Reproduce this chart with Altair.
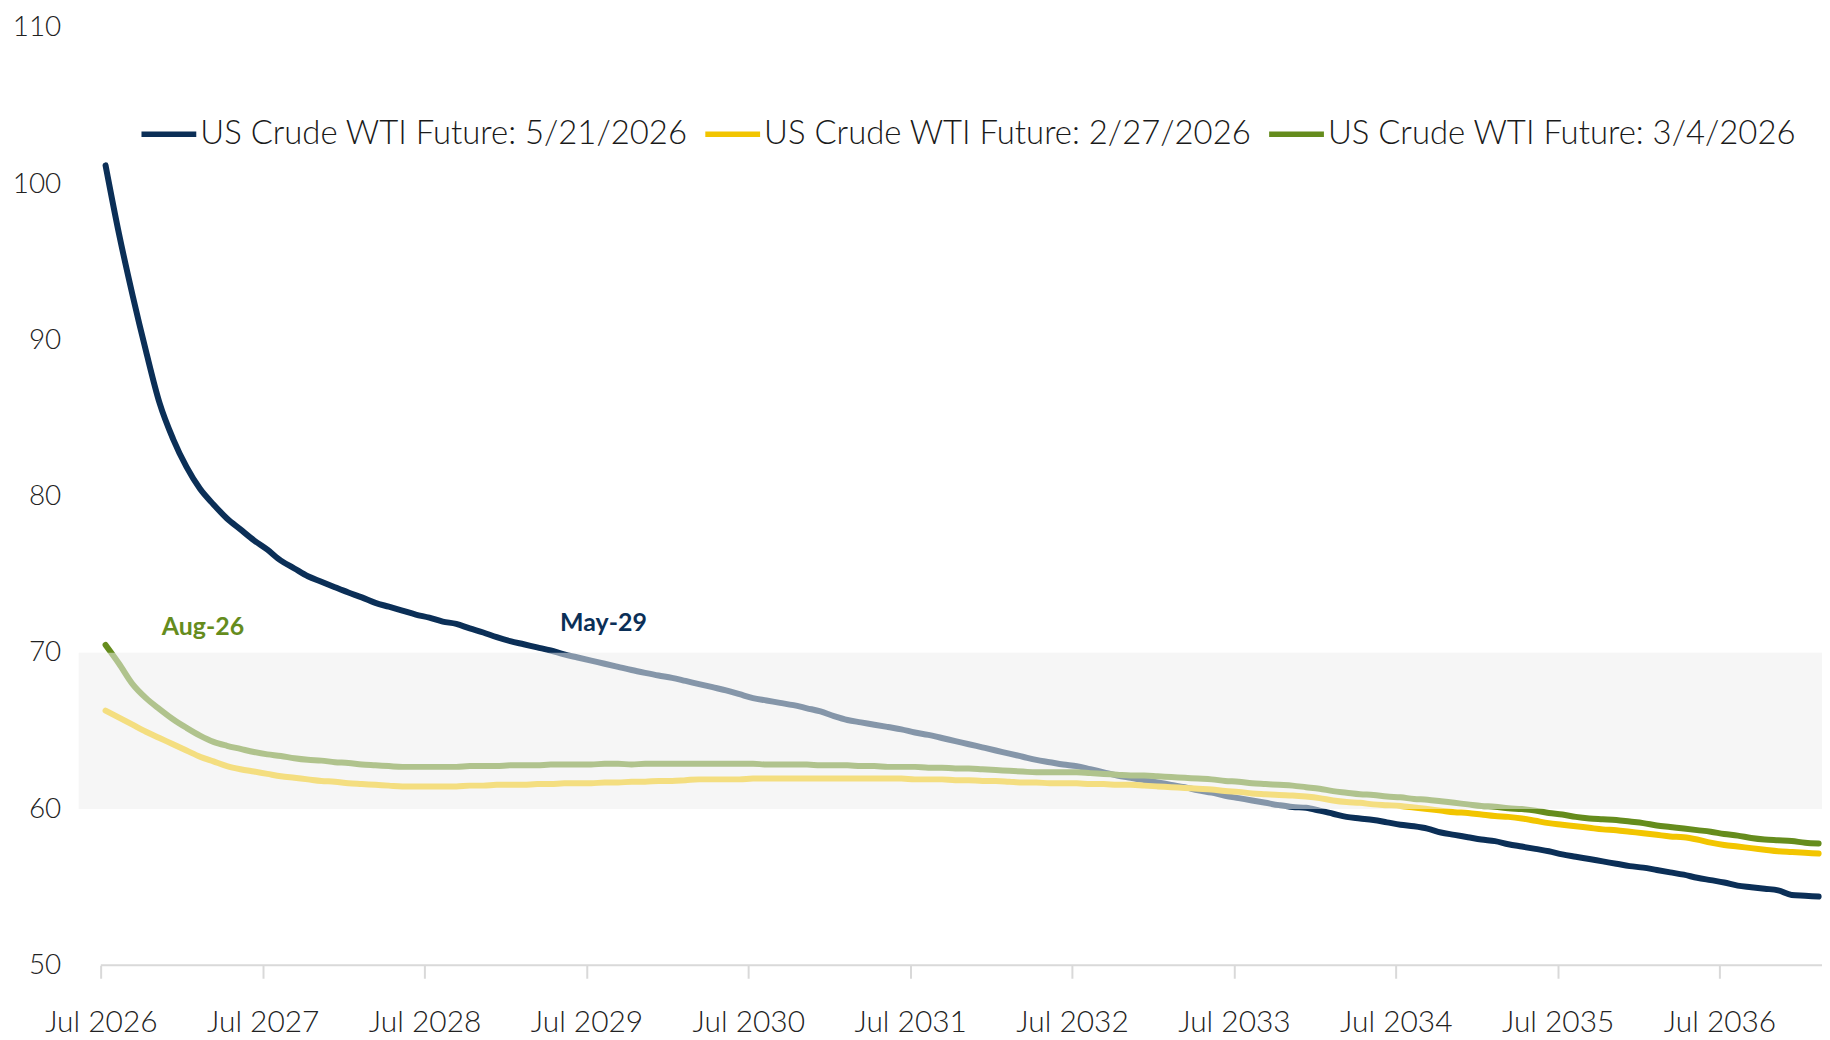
import altair as alt
import pandas as pd

# ---------------- data ----------------
SERIES = [
    "US Crude WTI Future: 5/21/2026",
    "US Crude WTI Future: 2/27/2026",
    "US Crude WTI Future: 3/4/2026",
]

# months after Jul 2026 of the first contract point
FIRST_MONTH = 0.35

wti_0521 = [
    101.2, 96.8, 92.9, 89.3, 86.0, 83.7, 81.9, 80.5, 79.5, 78.6,
    77.9, 77.2, 76.6, 75.9, 75.4, 74.9, 74.55, 74.2, 73.86, 73.55,
    73.2, 72.95, 72.7, 72.45, 72.25, 72.0, 71.85, 71.56, 71.3, 71.0,
    70.75, 70.55, 70.35, 70.15, 69.9, 69.7, 69.5, 69.3, 69.1, 68.9,
    68.72, 68.55, 68.4, 68.2, 68.0, 67.8, 67.6, 67.35, 67.1, 66.95,
    66.8, 66.65, 66.45, 66.25, 65.95, 65.7, 65.55, 65.4, 65.25, 65.1,
    64.9, 64.75, 64.55, 64.35, 64.15, 63.95, 63.75, 63.55, 63.35, 63.15,
    63.0, 62.85, 62.75, 62.55, 62.35, 62.15, 62.0, 61.85, 61.7, 61.55,
    61.4, 61.2, 61.05, 60.85, 60.7, 60.55, 60.4, 60.25, 60.13, 60.08,
    59.9, 59.7, 59.5, 59.4, 59.3, 59.15, 59.0, 58.9, 58.75, 58.5,
    58.35, 58.2, 58.05, 57.95, 57.75, 57.6, 57.45, 57.3, 57.1, 56.95,
    56.8, 56.65, 56.5, 56.35, 56.25, 56.1, 55.95, 55.8, 55.6, 55.45,
    55.3, 55.1, 55.0, 54.9, 54.8, 54.5, 54.45, 54.4,
]

wti_0227 = [
    66.3, 65.85, 65.4, 64.95, 64.55, 64.15, 63.75, 63.35, 63.05, 62.75,
    62.55, 62.4, 62.25, 62.1, 62.0, 61.9, 61.8, 61.75, 61.65, 61.6,
    61.55, 61.5, 61.45, 61.45, 61.45, 61.45, 61.45, 61.5, 61.5, 61.55,
    61.55, 61.55, 61.6, 61.6, 61.65, 61.65, 61.65, 61.7, 61.7, 61.75,
    61.75, 61.8, 61.8, 61.85, 61.9, 61.9, 61.9, 61.9, 61.95, 61.95,
    61.95, 61.95, 61.95, 61.95, 61.95, 61.95, 61.95, 61.95, 61.95, 61.95,
    61.9, 61.9, 61.9, 61.85, 61.85, 61.8, 61.8, 61.75, 61.7, 61.7,
    61.65, 61.65, 61.65, 61.6, 61.6, 61.55, 61.55, 61.5, 61.45, 61.4,
    61.35, 61.3, 61.25, 61.15, 61.1, 61.0, 60.95, 60.9, 60.87, 60.8,
    60.7, 60.55, 60.45, 60.4, 60.3, 60.25, 60.2, 60.1, 60.0, 59.9,
    59.8, 59.75, 59.65, 59.55, 59.5, 59.4, 59.25, 59.1, 59.0, 58.9,
    58.8, 58.7, 58.65, 58.55, 58.45, 58.35, 58.25, 58.2, 58.05, 57.85,
    57.7, 57.6, 57.5, 57.4, 57.3, 57.25, 57.2, 57.15,
]

wti_0304 = [
    70.5, 69.3, 68.0, 67.1, 66.4, 65.75, 65.2, 64.7, 64.3, 64.05,
    63.85, 63.65, 63.5, 63.4, 63.25, 63.15, 63.1, 63.0, 62.95, 62.85,
    62.8, 62.75, 62.7, 62.7, 62.7, 62.7, 62.7, 62.75, 62.75, 62.75,
    62.8, 62.8, 62.8, 62.85, 62.85, 62.85, 62.85, 62.9, 62.9, 62.85,
    62.9, 62.9, 62.9, 62.9, 62.9, 62.9, 62.9, 62.9, 62.9, 62.85,
    62.85, 62.85, 62.85, 62.8, 62.8, 62.8, 62.75, 62.75, 62.7, 62.7,
    62.7, 62.65, 62.65, 62.6, 62.6, 62.55, 62.5, 62.45, 62.4, 62.35,
    62.35, 62.35, 62.35, 62.3, 62.25, 62.2, 62.15, 62.15, 62.1, 62.05,
    62.0, 61.95, 61.9, 61.8, 61.75, 61.65, 61.6, 61.55, 61.5, 61.4,
    61.3, 61.15, 61.05, 60.95, 60.9, 60.8, 60.75, 60.65, 60.6, 60.5,
    60.4, 60.3, 60.2, 60.15, 60.05, 60.0, 59.9, 59.75, 59.65, 59.5,
    59.4, 59.35, 59.3, 59.2, 59.1, 58.95, 58.85, 58.75, 58.65, 58.55,
    58.4, 58.3, 58.15, 58.05, 58.0, 57.95, 57.85, 57.8,
]

tick_months = [0, 12, 24, 36, 48, 60, 72, 84, 96, 108, 120]
y_ticks = [50, 60, 70, 80, 90, 100, 110]
band_range = [60, 70]

annot_labels = ["Aug-26", "May-29"]
annot_month = [7.57, 37.26]
annot_price = [71.65, 71.9]

# ---------------- styles ----------------
NAVY = "#0b2f57"
YELLOW = "#f2c500"
GREEN = "#658c1d"
BAND = "#f6f6f6"
FONT = "Lato"

X_MIN, X_MAX = -1.64, 127.6
W, H = 1750, 941

rows = []
for name, vals in zip(SERIES, [wti_0521, wti_0227, wti_0304]):
    for i, v in enumerate(vals):
        rows.append({"m": FIRST_MONTH + i, "price": v, "series": name})
df = pd.DataFrame(rows)

xscale = alt.Scale(domain=[X_MIN, X_MAX], nice=False, zero=False)
yscale = alt.Scale(domain=[50, 110], nice=False, zero=False)

xaxis = alt.Axis(values=tick_months,
                 labelExpr="'Jul ' + (2026 + datum.value / 12)",
                 domain=False, grid=False, ticks=True,
                 tickColor="#d9d9d9", tickWidth=2, tickSize=13,
                 labelFont=FONT, labelFontSize=30, labelFontWeight=300,
                 labelColor="#222222",
                 labelBaseline="middle", labelAlign="center",
                 labelPadding=44, labelFlush=False, labelOverlap=False, title=None)
yaxis = alt.Axis(values=y_ticks, domain=False, grid=False, ticks=False,
                 labelFont=FONT, labelFontSize=28, labelFontWeight=300,
                 labelColor="#222222",
                 labelAlign="right", labelBaseline="middle",
                 labelPadding=18, labelFlush=False, title=None)

band_df = pd.DataFrame({"price": [band_range[0]], "hi": [band_range[1]]})
band = alt.Chart(band_df).mark_rect(color=BAND, opacity=1).encode(
    x=alt.value(0), x2=alt.value(W),
    y=alt.Y("price:Q", scale=yscale, axis=yaxis), y2="hi:Q",
)
overlay = alt.Chart(band_df).mark_rect(color=BAND, opacity=0.52).encode(
    x=alt.value(0), x2=alt.value(W),
    y=alt.Y("price:Q", scale=yscale, axis=yaxis), y2="hi:Q",
)

axis_df = pd.DataFrame({"m": [tick_months[0]], "b": [X_MAX], "price": [50]})
axis_line = alt.Chart(axis_df).mark_rule(color="#d9d9d9", strokeWidth=2).encode(
    x=alt.X("m:Q", scale=xscale, axis=xaxis), x2="b:Q",
    y=alt.Y("price:Q", scale=yscale, axis=yaxis),
)

lines = alt.Chart(df).mark_line(strokeWidth=6, strokeCap="round", strokeJoin="round",
                                interpolate="monotone").encode(
    x=alt.X("m:Q", scale=xscale, axis=xaxis),
    y=alt.Y("price:Q", scale=yscale, axis=yaxis),
    color=alt.Color("series:N",
                    scale=alt.Scale(domain=SERIES, range=[NAVY, YELLOW, GREEN]),
                    legend=alt.Legend(title=None, orient="none", direction="horizontal",
                                      legendX=60, legendY=76,
                                      symbolType="stroke", symbolSize=3025,
                                      symbolStrokeWidth=5.5,
                                      labelFont=FONT, labelFontSize=33,
                                      labelFontWeight=300,
                                      labelColor="#1a1a1a", labelLimit=1000,
                                      labelOffset=1, columnPadding=6)),
    order=alt.Order("m:Q"),
)

ann_df1 = pd.DataFrame({"m": [annot_month[0]], "price": [annot_price[0]], "t": [annot_labels[0]]})
ann_df2 = pd.DataFrame({"m": [annot_month[1]], "price": [annot_price[1]], "t": [annot_labels[1]]})
t1 = alt.Chart(ann_df1).mark_text(
    font=FONT, fontWeight="bold", fontSize=25, color=GREEN, align="center", baseline="middle"
).encode(x=alt.X("m:Q", scale=xscale, axis=xaxis), y=alt.Y("price:Q", scale=yscale, axis=yaxis), text="t:N")
t2 = alt.Chart(ann_df2).mark_text(
    font=FONT, fontWeight="bold", fontSize=25, color=NAVY, align="center", baseline="middle"
).encode(x=alt.X("m:Q", scale=xscale, axis=xaxis), y=alt.Y("price:Q", scale=yscale, axis=yaxis), text="t:N")

chart = alt.layer(band, axis_line, lines, overlay, t1, t2).properties(
    width=W, height=H,
    autosize=alt.AutoSizeParams(type="none"),
    padding={"left": 71, "top": 18, "right": 0, "bottom": 70},
    background="white",
).configure_view(stroke=None)

chart.save("out.html", embed_options={"renderer": "svg", "actions": False})
